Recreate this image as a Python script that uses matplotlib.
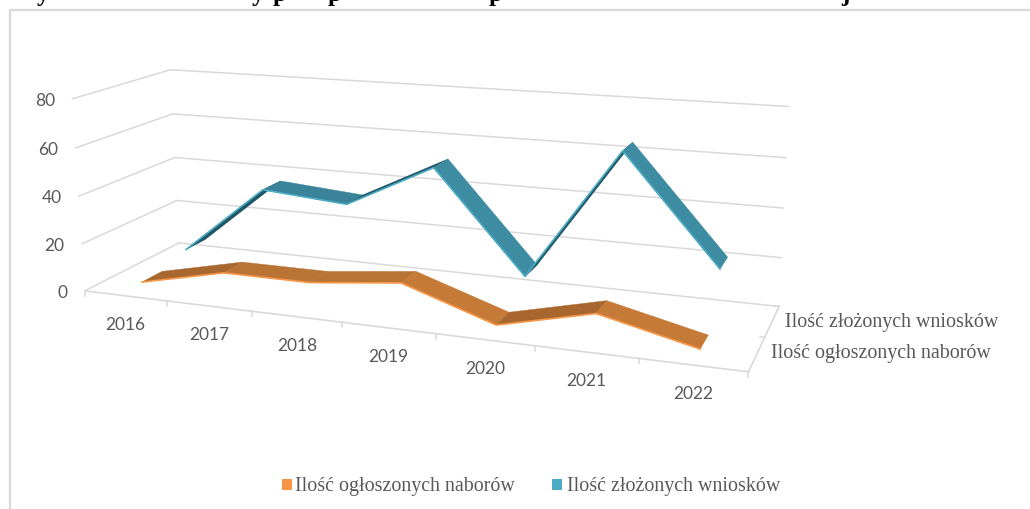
import numpy as np
import matplotlib
matplotlib.use("Agg")
import matplotlib.pyplot as plt
from matplotlib.patches import Rectangle

years = ["2016", "2017", "2018", "2019", "2020", "2021", "2022"]
nabory = [2, 10, 10, 14, 1.5, 10.5, 1.5]
wnioski = [6, 36, 33, 51.5, 10, 64, 21]
y_ticks = [0, 20, 40, 60, 80]
name_nabory = "Ilość ogłoszonych naborów"
name_wnioski = "Ilość złożonych wniosków"

W, H = 1030, 509
GRID = "#D9D9D9"
TXT = "#595959"

# Calibration of the fake 3D box: (year slot, value, depth) -> picture pixel
world = [(0, 0, 0), (7, 0, 0), (7, 0, 1), (0, 0, 1), (0, 80, 0), (0, 80, 1),
         (7, 80, 1), (0, 40, 0), (0, 40, 1), (7, 40, 1)]
pixel = [(86, 291), (748, 373), (780, 305), (178, 243), (72, 98), (171, 70),
         (789, 107), (78, 196), (175, 158), (783, 208)]


def fit_camera(world, pixel):
    rows = []
    for (x, y, z), (u, v) in zip(world, pixel):
        rows.append([x, y, z, 1, 0, 0, 0, 0, -u*x, -u*y, -u*z, -u])
        rows.append([0, 0, 0, 0, x, y, z, 1, -v*x, -v*y, -v*z, -v])
    return np.linalg.svd(np.array(rows, dtype=float))[2][-1].reshape(3, 4)


P = fit_camera(world, pixel)


def proj(x, y, z):
    q = P @ np.array([x, y, z, 1.0])
    return q[0]/q[2], q[1]/q[2]


def line3d(ax, a, b, **kw):
    pa, pb = proj(*a), proj(*b)
    ax.plot([pa[0], pb[0]], [pa[1], pb[1]], solid_capstyle="round", **kw)


def ribbon(ax, vals, d0, d1, light, mid, dark, edge):
    for i in range(len(vals)-1):
        corners = [proj(i+.5, vals[i], d0), proj(i+1.5, vals[i+1], d0),
                   proj(i+1.5, vals[i+1], d1), proj(i+.5, vals[i], d1)]
        # shade by slope, rising parts face away from the light
        change = vals[i+1] - vals[i]
        col = dark if change > 5 else (light if change < -5 else mid)
        ax.fill(*zip(*corners), color=col, lw=0.3, zorder=3)
    front = [proj(i+.5, v, d0) for i, v in enumerate(vals)]
    ax.plot(*zip(*front), color=edge, lw=1.2, zorder=4)


fig = plt.figure(figsize=(W/100, H/100), dpi=100)
ax = fig.add_axes([0, 0, 1, 1])
ax.set_xlim(0, W)
ax.set_ylim(H, 0)
ax.axis("off")

# chart frame, runs off the right and bottom of the picture
ax.plot([10, 10, W+5], [H+5, 10, 10], color=GRID, lw=1.6)

# title is cut off by the picture edge, only these descenders are left
for ch, tx in [("y", 43), ("y", 258), ("p", 280), ("p", 335), ("p", 496), ("j", 845)]:
    ax.text(tx, 0.5, ch, family="Liberation Serif", weight="bold", fontsize=18,
            color="black", ha="center", va="baseline", clip_on=True)

# walls and floor
for v in y_ticks:
    line3d(ax, (0, v, 0), (0, v, 1), color=GRID, lw=1.1, zorder=1)
    line3d(ax, (0, v, 1), (7, v, 1), color=GRID, lw=1.1, zorder=1)
    u0, v0 = proj(0, v, 0)
    ax.text(u0-17, v0+2, str(v), family="Lato", fontsize=12.5, color=TXT, ha="right", va="center")
line3d(ax, (0, 0, 0), (7, 0, 0), color=GRID, lw=1.2, zorder=1)
line3d(ax, (7, 0, 0), (7, 0, 1), color=GRID, lw=1.2, zorder=1)
for i in range(len(years)+1):
    u0, v0 = proj(i, 0, 0)
    ax.plot([u0, u0], [v0, v0+5], color=GRID, lw=1.1, zorder=1)
u0, v0 = proj(7, 0, .5)
ax.plot([u0, u0-5], [v0, v0], color=GRID, lw=1.1, zorder=1)
u0, v0 = proj(7, 0, 1)
ax.plot([u0, u0-5], [v0, v0], color=GRID, lw=1.1, zorder=1)

for i, lab in enumerate(years):
    u0, v0 = proj(i+.5, 0, 0)
    ax.text(u0, v0+29, lab, family="Lato", fontsize=12.5, color=TXT, ha="center", va="center")

# depth axis names
u0, v0 = proj(7, 0, .25)
ax.text(u0+14, v0, name_nabory, family="Liberation Serif", fontsize=14.4, color=TXT, ha="left", va="center")
u0, v0 = proj(7, 0, .75)
ax.text(u0+13, v0+1, name_wnioski, family="Liberation Serif", fontsize=14.4, color=TXT, ha="left", va="center")

ribbon(ax, nabory, .17, .38, "#C67A37", "#B87335", "#A8672E", "#F79646")
ribbon(ax, wnioski, .65, .87, "#3E8CA2", "#3A8398", "#1F5666", "#4BACC6")

# legend
ax.add_patch(Rectangle((282, 479), 10, 11, color="#F79646", lw=0))
ax.text(295, 486, name_nabory, family="Liberation Serif", fontsize=14.4, color=TXT, va="center")
ax.add_patch(Rectangle((552, 479), 10, 11, color="#4BACC6", lw=0))
ax.text(567, 486, name_wnioski, family="Liberation Serif", fontsize=14.4, color=TXT, va="center")

fig.savefig("out.png", dpi=100)
